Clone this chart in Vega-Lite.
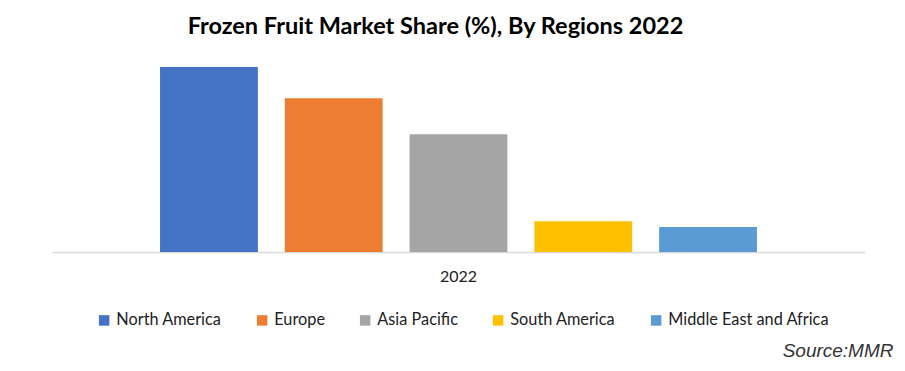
{
  "$schema": "https://vega.github.io/schema/vega-lite/v6.json",
  "width": 813,
  "height": 205,
  "autosize": {"type": "none"},
  "padding": {"left": 52, "top": 47, "right": 40, "bottom": 119},
  "background": "white",
  "title": {
    "text": "Frozen Fruit Market Share (%), By Regions 2022",
    "font": "Lato",
    "fontSize": 23.5,
    "fontWeight": "bold",
    "color": "#000000",
    "anchor": "middle",
    "dx": -23,
    "offset": 9
  },
  "data": {
    "values": [
      {"year": "2022", "region": "North America", "share": 36.1},
      {"year": "2022", "region": "Europe", "share": 30.0},
      {"year": "2022", "region": "Asia Pacific", "share": 23.0},
      {"year": "2022", "region": "South America", "share": 6.0},
      {"year": "2022", "region": "Middle East and Africa", "share": 4.9}
    ]
  },
  "mark": {"type": "bar"},
  "encoding": {
    "x": {
      "field": "year",
      "type": "nominal",
      "scale": {"paddingInner": 0, "paddingOuter": 0.181},
      "axis": {
        "title": null,
        "labelAngle": 0,
        "labelFont": "Lato",
        "labelFontSize": 16,
        "labelColor": "#222222",
        "labelPadding": 16,
        "ticks": false,
        "domainColor": "#d9d9d9",
        "domainWidth": 1.5
      }
    },
    "xOffset": {
      "field": "region",
      "type": "nominal",
      "sort": ["North America", "Europe", "Asia Pacific", "South America", "Middle East and Africa"],
      "scale": {"paddingInner": 0.216, "paddingOuter": 0}
    },
    "y": {
      "field": "share",
      "type": "quantitative",
      "scale": {"domain": [0, 40]},
      "axis": {
        "title": "Source:MMR",
        "titleAngle": 0,
        "titleX": 841,
        "titleY": 309,
        "titleAlign": "right",
        "titleBaseline": "alphabetic",
        "titleFont": "Liberation Sans",
        "titleFontStyle": "italic",
        "titleFontWeight": "normal",
        "titleFontSize": 19,
        "titleColor": "#333333",
        "labels": false,
        "ticks": false,
        "domain": false,
        "grid": false
      }
    },
    "color": {
      "field": "region",
      "type": "nominal",
      "sort": ["North America", "Europe", "Asia Pacific", "South America", "Middle East and Africa"],
      "scale": {
        "domain": ["North America", "Europe", "Asia Pacific", "South America", "Middle East and Africa"],
        "range": ["#4472c4", "#ed7d31", "#a5a5a5", "#ffc000", "#5b9bd5"]
      },
      "legend": {
        "orient": "none",
        "legendX": 44,
        "legendY": 265,
        "direction": "horizontal",
        "title": null,
        "symbolType": "square",
        "symbolSize": 110,
        "symbolStrokeWidth": 0,
        "labelFont": "Lato",
        "labelFontSize": 16.3,
        "labelLimit": 400,
        "labelColor": "#222222",
        "labelOffset": 4,
        "columnPadding": 32
      }
    }
  },
  "config": {"view": {"stroke": null}}
}
